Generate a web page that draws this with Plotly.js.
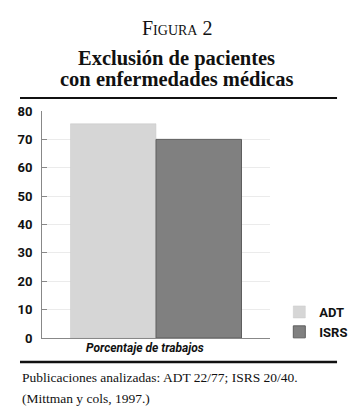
<!DOCTYPE html>
<html>
<head>
<meta charset="utf-8">
<script src="https://cdn.plot.ly/plotly-3.0.1.min.js"></script>
<style>html,body{margin:0;padding:0;background:#fff;}#chart{width:354px;height:420px;}</style>
</head>
<body>
<div id="chart"></div>
<script>
const categories = ["Porcentaje de trabajos"];
const seriesNames = ["ADT", "ISRS"];
const adtValues = [75.5];
const isrsValues = [70];
const yTickValues = [0, 10, 20, 30, 40, 50, 60, 70, 80];
const yTickLabels = ["0", "10", "20", "30", "40", "50", "60", "70", "80"];
const figureLabel = "Figura 2";
const titleLines = ["Exclusión de pacientes", "con enfermedades médicas"];
const footerLines = ["Publicaciones analizadas: ADT 22/77; ISRS 20/40.", "(Mittman y cols, 1997.)"];

const sansBold = "Liberation Sans Narrow, Roboto, Liberation Sans, sans-serif";
const serif = "Liberation Serif, DejaVu Serif, serif";

const traces = [
  {type: "bar", name: seriesNames[0], x: categories, y: adtValues, legendgroup: "a",
   marker: {color: "#d6d6d6", line: {color: "#c8c8c8", width: 0.5}}},
  {type: "bar", name: seriesNames[1], x: categories, y: isrsValues, legendgroup: "b",
   marker: {color: "#808080", line: {color: "#5e5e5e", width: 1}}}
];

const titleX = 0.592;
const layout = {
  width: 354, height: 420,
  margin: {l: 42, r: 84, t: 111, b: 82},
  paper_bgcolor: "#fff", plot_bgcolor: "#fff",
  barmode: "group", bargap: 0.25, bargroupgap: 0,
  showlegend: true,
  legend: {xref: "container", yref: "container", x: 0.789, xanchor: "left", y: 1 - 297 / 420, yanchor: "top",
           font: {family: sansBold, size: 13, color: "#111", weight: 700},
           traceorder: "normal", tracegroupgap: 7, itemwidth: 30, bgcolor: "rgba(0,0,0,0)"},
  xaxis: {type: "category", showgrid: false, showline: true, linecolor: "#888", linewidth: 1,
          ticks: "", showticklabels: false, fixedrange: true},
  yaxis: {range: [0, 80], tickvals: yTickValues, ticktext: yTickLabels, showline: true,
          linecolor: "#888", linewidth: 1, ticks: "inside", ticklen: 5, tickcolor: "#888",
          showgrid: true, gridcolor: "#ebebeb", gridwidth: 1, zeroline: false,
          tickfont: {family: sansBold, size: 13, color: "#111", weight: 700}, ticklabelstandoff: 6},
  shapes: [
    {type: "line", xref: "paper", yref: "paper", x0: -0.0965, x1: 1.294, y0: 1.057, y1: 1.057,
     line: {color: "#111", width: 2}},
    {type: "line", xref: "paper", yref: "paper", x0: -0.0965, x1: 1.294, y0: -0.106, y1: -0.106,
     line: {color: "#111", width: 2.5}}
  ],
  annotations: [
    {text: figureLabel, xref: "paper", yref: "paper", x: titleX, y: 1.365, xanchor: "center", yanchor: "middle",
     showarrow: false, font: {family: serif, size: 20, color: "#111", variant: "small-caps"}},
    {text: titleLines[0], xref: "paper", yref: "paper", x: titleX, y: 1.233, xanchor: "center", yanchor: "middle",
     showarrow: false, font: {family: serif, size: 20.5, color: "#111", weight: 700}},
    {text: titleLines[1], xref: "paper", yref: "paper", x: titleX, y: 1.141, xanchor: "center", yanchor: "middle",
     showarrow: false, font: {family: serif, size: 20.5, color: "#111", weight: 700}},
    {text: categories[0], xref: "paper", yref: "paper", x: (145 - 42) / 228, y: -0.044, xanchor: "center", yanchor: "middle",
     showarrow: false, font: {family: sansBold, size: 12, color: "#111", weight: 700, style: "italic"}},
    {text: footerLines[0], xref: "paper", yref: "paper", x: -0.0965, y: -0.176, xanchor: "left", yanchor: "middle",
     showarrow: false, font: {family: serif, size: 13.5, color: "#111"}},
    {text: footerLines[1], xref: "paper", yref: "paper", x: -0.0965, y: -0.268, xanchor: "left", yanchor: "middle",
     showarrow: false, font: {family: serif, size: 13.5, color: "#111"}}
  ]
};

Plotly.newPlot("chart", traces, layout, {displayModeBar: false, staticPlot: true});
</script>
</body>
</html>
